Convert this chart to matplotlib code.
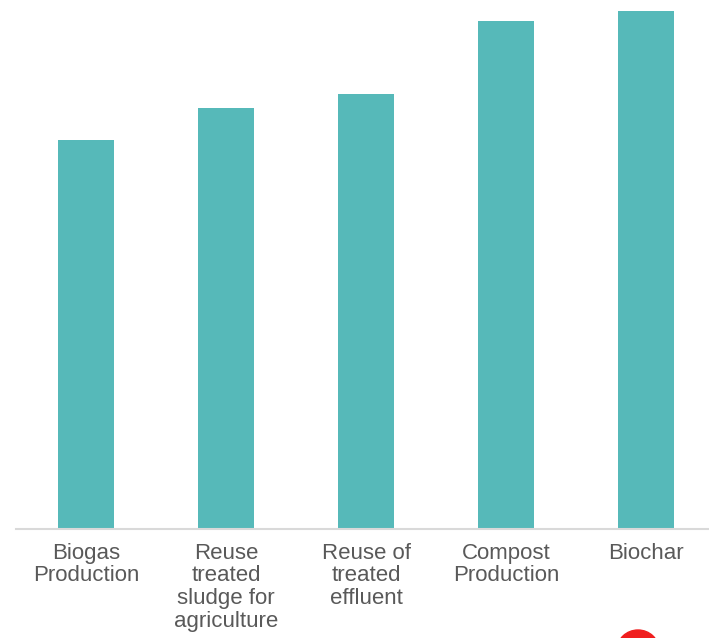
import matplotlib
matplotlib.use('Agg')
import matplotlib.pyplot as plt
from matplotlib.patches import Ellipse

# categories and relative values (no y axis shown)
categories = ['Biogas\nProduction', 'Reuse\ntreated\nsludge for\nagriculture',
              'Reuse of\ntreated\neffluent', 'Compost\nProduction', 'Biochar']
values = [75.1, 81.3, 84.0, 98.1, 100.0]

fig = plt.figure(figsize=(7.09, 6.38), dpi=100)
ax = fig.add_axes([16 / 709, 109 / 638, 693 / 709, 529 / 638])

x = list(range(len(categories)))
ax.bar(x, values, width=0.4, color='#56B9B9', zorder=2)

ax.set_xlim(-0.5, 4.45)
ax.set_ylim(0, 102.1)
ax.set_yticks([])
ax.set_xticks(x)
ax.set_xticklabels(categories, fontsize=16, color='#595959',
                   family=['Liberation Sans', 'DejaVu Sans'],
                   linespacing=1.1)
ax.tick_params(axis='x', length=0, pad=10)

for s in ['top', 'left', 'right']:
    ax.spines[s].set_visible(False)
ax.spines['bottom'].set_color('#D9D9D9')
ax.spines['bottom'].set_linewidth(1.5)

# partial red logo cut off at the bottom edge
fig.patches.append(Ellipse((638 / 709, -12 / 638), 42 / 709, 40 / 638,
                           transform=fig.transFigure, color='#F01E1E',
                           figure=fig))

fig.savefig('out.png', dpi=100)
